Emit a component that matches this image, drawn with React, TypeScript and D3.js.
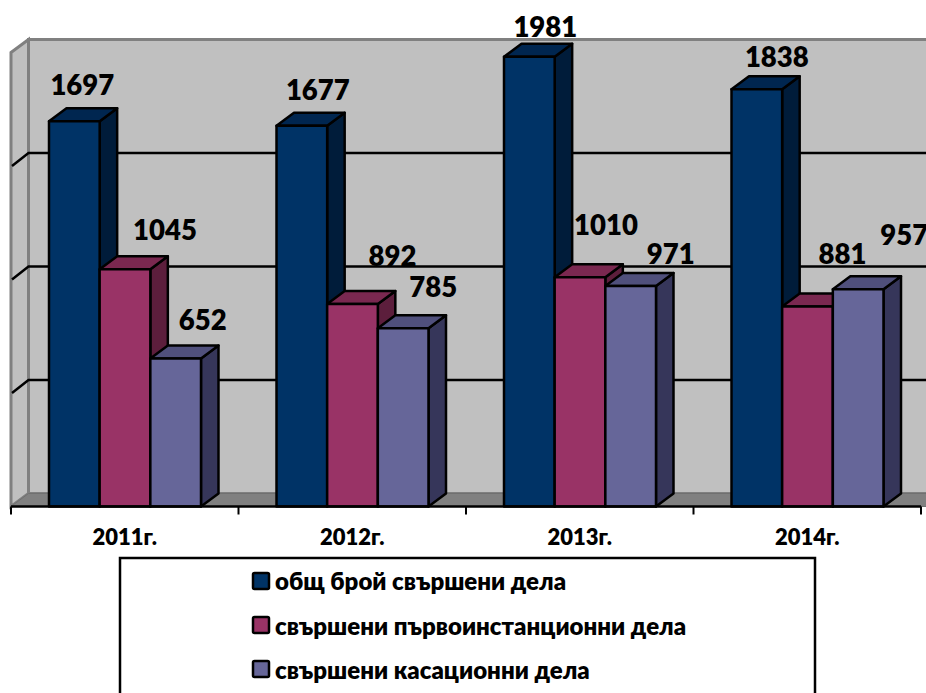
import React from "react";
import * as d3 from "d3";

const categories = ["2011г.", "2012г.", "2013г.", "2014г."];
const seriesNames = ["общ брой свършени дела", "свършени първоинстанционни дела", "свършени касационни дела"];
const totalCases = [1697, 1677, 1981, 1838];
const firstInstanceCases = [1045, 892, 1010, 881];
const cassationCases = [652, 785, 971, 957];
const yTicks = [0, 500, 1000, 1500, 2000];

const fronts = ["#003366", "#993366", "#666699"];
const tops = ["#002650", "#7a2850", "#50507c"];
const sides = ["#001c3a", "#5c1e3c", "#36365a"];

// label centre relative to bar top-centre
const labelNudge: [number, number][][] = [
  [[8, -26], [16, -26], [16, -20], [20, -22]],
  [[40, -29], [40, -38], [26, -42], [35, -43]],
  [[27, -28], [30, -31], [40, -22], [46, -44]],
];

const W = 926, H = 693;
const dx = 17.5, dy = -13;
const font = "Lato, 'Open Sans', sans-serif";

export default function App() {
  const x = d3.scaleBand<string>().domain(categories).range([11, 921]);
  const y = d3.scaleLinear().domain([0, 2000]).range([506.5, 52.5]);
  const inner = d3.scaleBand<number>().domain([0, 1, 2]).range([38, 38 + 152]);
  const series = [totalCases, firstInstanceCases, cassationCases];
  const left = 11;
  const right = 921;
  const wallTop = y(2000) + dy;
  const wallBottom = y(0) + dy;
  const line = "#000";
  return (
    <svg width={W} height={H} style={{ position: "absolute", left: 0, top: 0 }}>
      {/* back wall */}
      <rect x={left + dx} y={wallTop} width={W - left - dx + 2} height={wallBottom - wallTop} fill="#c0c0c0" stroke="#808080" strokeWidth={3} />
      {/* left wall */}
      <path d={`M${left},${y(2000)}L${left + dx},${wallTop}L${left + dx},${wallBottom}L${left},${y(0)}Z`} fill="#c0c0c0" stroke="#808080" strokeWidth={3} />
      {/* floor */}
      <path d={`M${left},${y(0)}L${left + dx},${wallBottom}L${W + 2},${wallBottom}L${W + 2},${y(0)}Z`} fill="#808080" stroke="#707070" strokeWidth={1} />
      {/* gridlines */}
      {yTicks.slice(1, -1).map((t) => (
        <path key={t} d={`M${left + 1},${y(t)}L${left + dx},${y(t) + dy}L${W},${y(t) + dy}`} fill="none" stroke={line} strokeWidth={2.5} />
      ))}
      {/* bars */}
      {categories.map((c, ci) => (
        <g key={c}>
          {[0, 1, 2].map((s) => {
            const x0 = x(c)! + inner(s)!;
            const w = inner.bandwidth();
            const t = y(series[s][ci]);
            const b = y(0);
            return (
              <g key={s} stroke={line} strokeWidth={2.5} strokeLinejoin="round">
                <path d={`M${x0 + w},${t}L${x0 + w + dx},${t + dy}L${x0 + w + dx},${b + dy}L${x0 + w},${b}Z`} fill={sides[s]} />
                <path d={`M${x0},${t}L${x0 + dx},${t + dy}L${x0 + w + dx},${t + dy}L${x0 + w},${t}Z`} fill={tops[s]} />
                <rect x={x0} y={t} width={w} height={b - t} fill={fronts[s]} />
              </g>
            );
          })}
        </g>
      ))}
      {/* axis */}
      <line x1={left} x2={right} y1={y(0)} y2={y(0)} stroke={line} strokeWidth={2.5} />
      {[...categories.map((c) => x(c)!), right].map((p) => (
        <line key={p} x1={p} x2={p} y1={y(0)} y2={y(0) + 8} stroke={line} strokeWidth={2} />
      ))}
      {categories.map((c) => (
        <text key={c} x={x(c)! + x.bandwidth() / 2} y={545} textAnchor="middle" fontFamily={font} fontWeight={800} fontSize={22} fill="#000">{c}</text>
      ))}
      {/* value labels */}
      {series.map((vals, s) =>
        vals.map((v, ci) => {
          const cx = x(categories[ci])! + inner(s)! + inner.bandwidth() / 2 + labelNudge[s][ci][0];
          return (
            <text key={`${s}-${ci}`} x={cx} y={y(v) + labelNudge[s][ci][1]} textAnchor="middle" fontFamily={font} fontWeight={800} fontSize={27.5} fill="#000">{v}</text>
          );
        })
      )}
      {/* legend */}
      <rect x={120} y={558} width={695} height={150} fill="#fff" stroke={line} strokeWidth={2.5} />
      {seriesNames.map((n, i) => (
        <g key={n}>
          <rect x={253} y={573 + i * 44} width={16} height={16} rx={1.5} fill={fronts[i]} stroke={line} strokeWidth={2.5} />
          <text x={275} y={590 + i * 44.5} fontFamily={font} fontWeight={800} fontSize={24} fill="#000">{n}</text>
        </g>
      ))}
    </svg>
  );
}
